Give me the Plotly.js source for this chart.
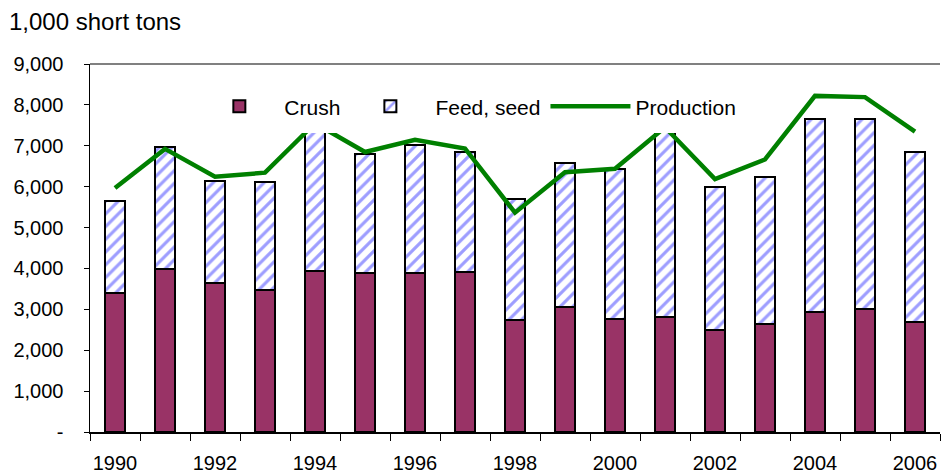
<!DOCTYPE html>
<html><head><meta charset="utf-8">
<script src="https://cdn.plot.ly/plotly-3.0.1.min.js"></script>
<style>html,body{margin:0;padding:0;background:#fff}#chart{width:943px;height:472px}</style>
</head><body><div id="chart"></div>
<script>
const years = [1990,1991,1992,1993,1994,1995,1996,1997,1998,1999,2000,2001,2002,2003,2004,2005,2006];
const crush = [3390,3990,3640,3480,3945,3900,3880,3910,2740,3065,2770,2810,2500,2640,2930,3020,2700];
const feedSeed = [2250,2970,2500,2640,3405,2900,3140,2940,2960,3525,3660,4540,3480,3600,4720,4630,4150];
const production = [5969,6924,6243,6342,7551,6848,7144,6934,5365,6354,6436,7452,6184,6665,8220,8190,7348];
const yTickVals = [0,1000,2000,3000,4000,5000,6000,7000,8000,9000];
const yTickText = ['-','1,000','2,000','3,000','4,000','5,000','6,000','7,000','8,000','9,000'];
const xTickVals = [1990,1992,1994,1996,1998,2000,2002,2004,2006];
const xBoundaries = years.map(y => y - 0.5).concat([years[years.length-1] + 0.5]);

const font = 'Liberation Sans, Arial, sans-serif';
const traces = [
  {type:'bar', name:'Crush', x:years, y:crush,
   marker:{color:'#993366', line:{color:'#000', width:2}}},
  {type:'bar', name:'Feed, seed', x:years, y:feedSeed,
   marker:{color:'#ffffff', line:{color:'#000', width:2},
           pattern:{shape:'/', fgcolor:'#9d9dff', bgcolor:'#ffffff', size:9, solidity:0.35}}},
  {type:'scatter', mode:'lines', name:'Production', x:years, y:production,
   line:{color:'#008000', width:4.5}}
];
const layout = {
  width:943, height:472,
  margin:{l:90, r:3, t:64, b:40},
  paper_bgcolor:'#fff', plot_bgcolor:'#fff',
  barmode:'stack', bargap:0.6,
  font:{family:font, size:20, color:'#000'},
  showlegend:true,
  legend:{orientation:'h', x:0.1157, y:0.884, xanchor:'left', yanchor:'middle',
          bgcolor:'#ffffff', bordercolor:'#ffffff', borderwidth:6,
          font:{family:font, size:21, color:'#000'},
          traceorder:'normal', itemwidth:80, tracegroupgap:0},
  xaxis:{type:'linear', range:[1989.5, 2006.5], tickmode:'array', tickvals:xTickVals,
         ticks:'', showgrid:false, zeroline:false, showline:true, linecolor:'#000', linewidth:1.5,
         ticklabelstandoff:12,
         tickfont:{family:font, size:20, color:'#000'},
         minor:{tickmode:'array', tickvals:xBoundaries, ticks:'outside', ticklen:7, tickcolor:'#000', tickwidth:1, showgrid:false}},
  yaxis:{range:[0,9000], tickmode:'array', tickvals:yTickVals, ticktext:yTickText,
         ticks:'outside', ticklen:5, tickcolor:'#000', showgrid:false, zeroline:false,
         showline:true, linecolor:'#000', linewidth:1.5, ticklabelstandoff:16,
         tickfont:{family:font, size:20, color:'#000'}},
  shapes:[{type:'line', xref:'paper', yref:'paper', x0:0, x1:1, y0:1, y1:1,
           line:{color:'#808080', width:2}}],
  annotations:[{text:'1,000 short tons', xref:'paper', yref:'paper', x:-0.098, y:1.0, yshift:43,
                xanchor:'left', yanchor:'middle', showarrow:false,
                font:{family:font, size:24, color:'#000'}}]
};
Plotly.newPlot('chart', traces, layout, {displayModeBar:false, staticPlot:true});
</script></body></html>
